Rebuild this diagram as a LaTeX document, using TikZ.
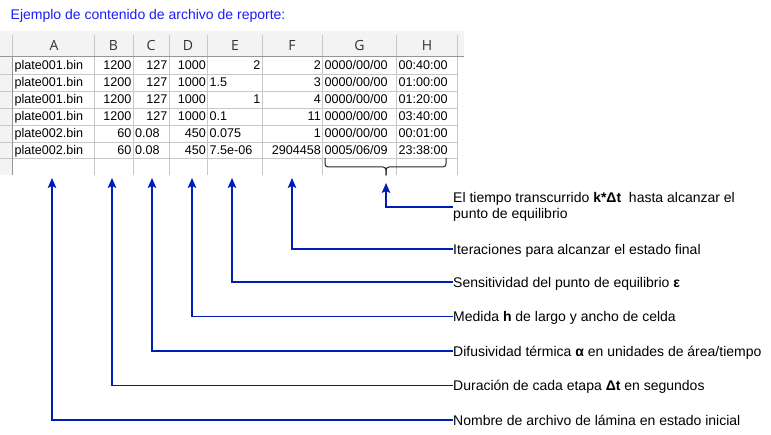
\documentclass[tikz,border=0pt]{standalone}
\usepackage{fontspec}
\setmainfont{Liberation Sans}
\newfontfamily\hdrfont{Open Sans}
\usetikzlibrary{arrows.meta}
\definecolor{titleblue}{RGB}{28,28,250}
\definecolor{arrowblue}{RGB}{0,30,180}
\definecolor{hdrbg}{RGB}{243,243,243}
\definecolor{gridc}{RGB}{200,200,200}
\definecolor{hdrline}{RGB}{150,150,150}
\definecolor{hdrtext}{RGB}{50,50,50}
\tikzset{
  cellL/.style={inner sep=0pt, anchor=base west, font=\fontsize{12.6}{14}\selectfont},
  cellR/.style={inner sep=0pt, anchor=base east, font=\fontsize{12.6}{14}\selectfont},
  colhdr/.style={inner sep=0pt, text=hdrtext, font=\hdrfont\fontsize{14}{16}\selectfont},
  lbl/.style={inner sep=0pt, anchor=west, text height=11pt, text depth=0pt, font=\fontsize{14}{16}\selectfont},
  lbltwo/.style={inner sep=0pt, anchor=west, align=left, font=\fontsize{14}{16}\selectfont},
  conn/.style={draw=arrowblue, line width=1.2pt, -{Stealth[length=10pt,width=8.5pt,inset=2pt]}},
  bracestyle/.style={draw=black!85, line width=1pt, rounded corners=3pt}
}
\begin{document}
\begin{tikzpicture}[x=1pt,y=-1pt]
\useasboundingbox (0,0) rectangle (771,435);
\fill[white] (0,0) rectangle (771,435);

% title
\node[inner sep=0pt, anchor=base west, text=titleblue, font=\fontsize{14}{16}\selectfont] (title) at (10.5,20) {Ejemplo de contenido de archivo de reporte:};

% spreadsheet backgrounds
\fill[hdrbg] (0,31.5) rectangle (464,57);
\fill[hdrbg] (0,57) rectangle (12.7,175);

% horizontal grid lines
\foreach \yy in {74,91,108,125,142,158.5} \draw[gridc, line width=0.8pt] (0,\yy) -- (457,\yy);
% vertical grid lines, header part
\foreach \xx in {12.7,94,133,169,207.5,262,322.5,396.5,457} \draw[gridc, line width=0.8pt] (\xx,35) -- (\xx,57);
% vertical grid lines, data part
\foreach \xx in {94,133,169,207.5,262,322.5,396.5,457} \draw[gridc, line width=0.8pt] (\xx,57) -- (\xx,175);
\draw[hdrline, line width=0.9pt] (12.7,57) -- (12.7,175);
\draw[hdrline, line width=1pt] (0,57) -- (464,57);

% column headers
\node[colhdr] (hA) at (54,45.5) {A};
\node[colhdr] (hB) at (113.5,45.5) {B};
\node[colhdr] (hC) at (151,45.5) {C};
\node[colhdr] (hD) at (188,45.5) {D};
\node[colhdr] (hE) at (235,45.5) {E};
\node[colhdr] (hF) at (292,45.5) {F};
\node[colhdr] (hG) at (359.5,45.5) {G};
\node[colhdr] (hH) at (427,45.5) {H};

% column A
\foreach \t [count=\i] in {plate001.bin,plate001.bin,plate001.bin,plate001.bin,plate002.bin,plate002.bin}
  \node[cellL] (cA\i) at (14.3,53+17*\i) {\t};
% column B
\foreach \t [count=\i] in {1200,1200,1200,1200,60,60}
  \node[cellR] (cB\i) at (131.5,53+17*\i) {\t};
% column C
\foreach \i in {1,2,3,4} \node[cellR] (cC\i) at (167.5,53+17*\i) {127};
\node[cellL] (cC5) at (135,138) {0.08};
\node[cellL] (cC6) at (135,155) {0.08};
% column D
\foreach \t [count=\i] in {1000,1000,1000,1000,450,450}
  \node[cellR] (cD\i) at (206,53+17*\i) {\t};
% column E
\node[cellR] (cE1) at (260.5,70) {2};
\node[cellL] (cE2) at (209.5,87) {1.5};
\node[cellR] (cE3) at (260.5,104) {1};
\node[cellL] (cE4) at (209.5,121) {0.1};
\node[cellL] (cE5) at (209.5,138) {0.075};
\node[cellL] (cE6) at (209.5,155) {7.5e-06};
% column F
\foreach \t [count=\i] in {2,3,4,11,1,2904458}
  \node[cellR] (cF\i) at (321,53+17*\i) {\t};
% column G
\foreach \t [count=\i] in {0000/00/00,0000/00/00,0000/00/00,0000/00/00,0000/00/00,0005/06/09}
  \node[cellL] (cG\i) at (324.5,53+17*\i) {\t};
% column H
\foreach \t [count=\i] in {00:40:00,01:00:00,01:20:00,03:40:00,00:01:00,23:38:00}
  \node[cellL] (cH\i) at (398.5,53+17*\i) {\t};

% brace under G and H
\draw[bracestyle] (325,158) -- (325,167) -- (386,167) -- (386,175.5);
\draw[bracestyle] (446,158) -- (446,167) -- (386,167) -- (386,175.5);

% arrow tips
\coordinate (tA) at (52,178);
\coordinate (tB) at (112,178);
\coordinate (tC) at (152,178);
\coordinate (tD) at (192,178);
\coordinate (tE) at (232,178);
\coordinate (tF) at (292,178);
\coordinate (tG) at (386,183);

% labels
\node[lbltwo] (lG) at (453,207) {El tiempo transcurrido \textbf{k*Δt}\ \ hasta alcanzar el\\punto de equilibrio};
\node[lbl] (lF) at (453,249) {Iteraciones para alcanzar el estado final};
\node[lbl] (lE) at (453,282) {Sensitividad del punto de equilibrio \textbf{ε}};
\node[lbl] (lD) at (453,316.5) {Medida \textbf{h} de largo y ancho de celda};
\node[lbl] (lC) at (453,351) {Difusividad térmica \textbf{α} en unidades de área/tiempo};
\node[lbl] (lB) at (453,385.5) {Duración de cada etapa \textbf{Δt} en segundos};
\node[lbl] (lA) at (453,420) {Nombre de archivo de lámina en estado inicial};

% connectors
\draw[conn] (lG.west) -| (tG);
\draw[conn] (lF.west) -| (tF);
\draw[conn] (lE.west) -| (tE);
\draw[conn] (lD.west) -| (tD);
\draw[conn] (lC.west) -| (tC);
\draw[conn] (lB.west) -| (tB);
\draw[conn] (lA.west) -| (tA);
\end{tikzpicture}
\end{document}
